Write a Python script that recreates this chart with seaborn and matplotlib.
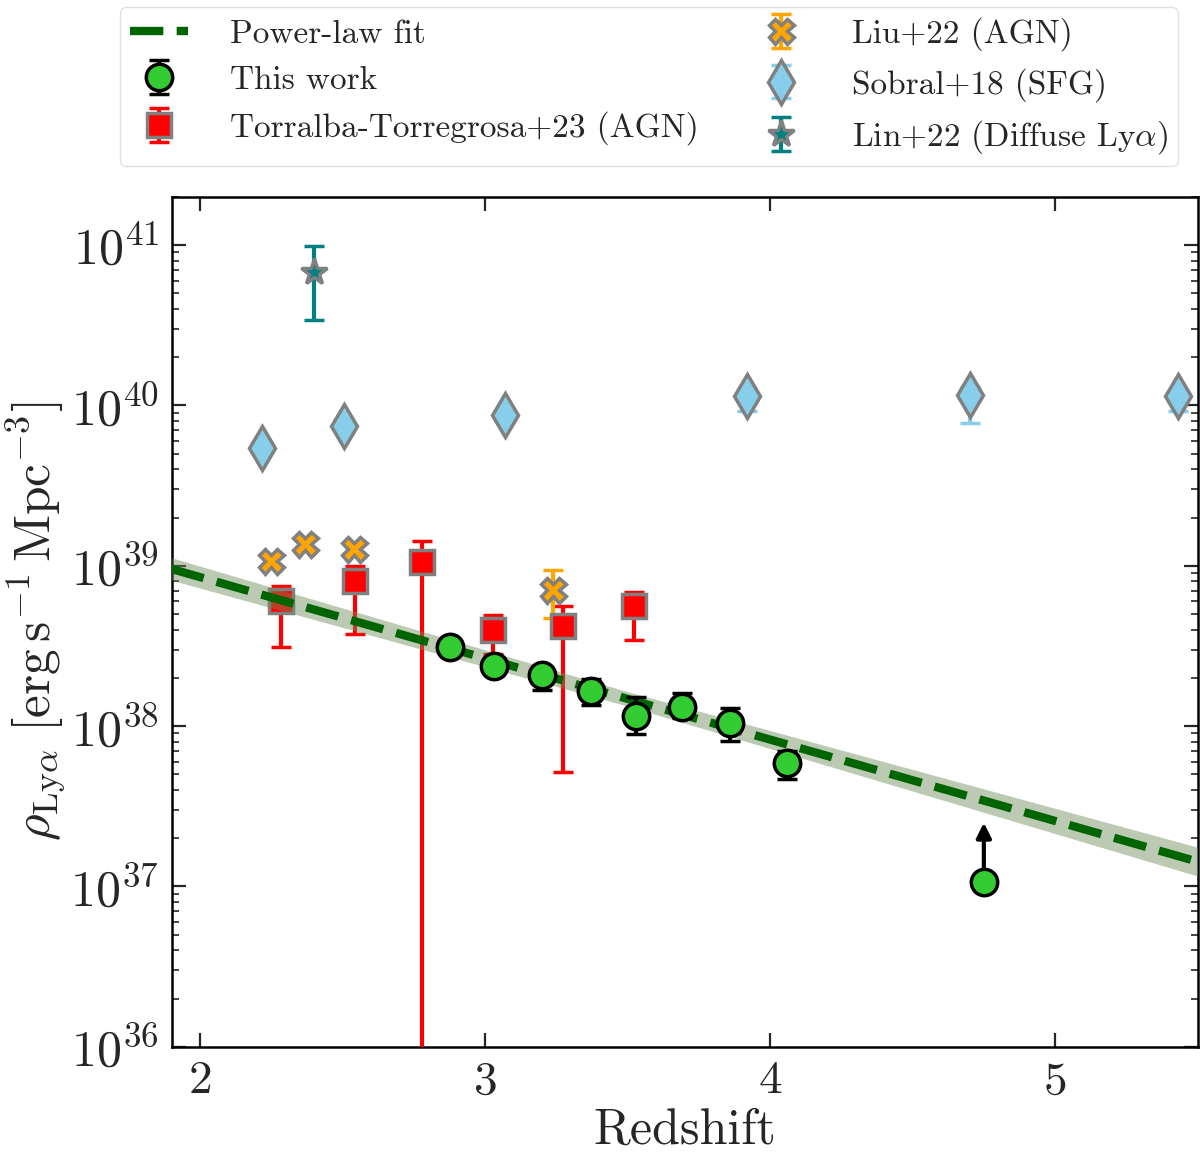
import numpy as np
import pandas as pd
import matplotlib
matplotlib.use("Agg")
import matplotlib.pyplot as plt
import seaborn as sns

# --- data ---
# This work
z_this = [2.876, 3.03, 3.20, 3.37, 3.53, 3.69, 3.86, 4.06]
rho_this = [3.1e38, 2.38e38, 2.09e38, 1.66e38, 1.16e38, 1.32e38, 1.05e38, 5.9e37]
err_lo_this = [0.35e38, 0.30e38, 0.40e38, 0.30e38, 0.27e38, 0.20e38, 0.24e38, 1.2e37]
err_hi_this = [0.35e38, 0.30e38, 0.25e38, 0.30e38, 0.35e38, 0.28e38, 0.25e38, 1.1e37]
# lower limit of this work
z_lim = [4.75]
rho_lim = [1.07e37]
rho_lim_tip = [2.5e37]

# Torralba-Torregrosa+23 (AGN)
z_tt = [2.284, 2.543, 2.78, 3.027, 3.272, 3.521]
rho_tt = [6.0e38, 8.06e38, 1.05e39, 4.0e38, 4.2e38, 5.6e38]
rho_tt_hi = [7.5e38, 1.0e39, 1.43e39, 4.95e38, 5.6e38, 6.9e38]
rho_tt_lo = [3.1e38, 3.77e38, 1e30, 2.8e38, 5.2e37, 3.45e38]

# Liu+22 (AGN)
z_liu = [2.249, 2.368, 2.54, 3.237]
rho_liu = [1.07e39, 1.37e39, 1.28e39, 7.1e38]
rho_liu_hi = [1.18e39, 1.45e39, 1.35e39, 9.45e38]
rho_liu_lo = [0.97e39, 1.29e39, 1.21e39, 4.75e38]

# Sobral+18 (SFG)
z_sob = [2.217, 2.505, 3.07, 3.92, 4.70, 5.43]
rho_sob = [5.4e39, 7.5e39, 8.7e39, 1.14e40, 1.17e40, 1.14e40]
rho_sob_hi = [5.6e39, 7.8e39, 9.0e39, 1.2e40, 1.3e40, 1.2e40]
rho_sob_lo = [5.2e39, 7.2e39, 8.4e39, 0.93e40, 0.78e40, 0.93e40]

# Lin+22 (Diffuse Lya)
z_lin = [2.40]
rho_lin = [6.8e40]
rho_lin_hi = [9.9e40]
rho_lin_lo = [3.4e40]

# power-law fit (log rho) and its band half-width
fit_z = [1.9, 3.5, 5.5]
fit_logrho = [38.98, 38.17, 37.155]
fit_band = [0.07, 0.045, 0.09]

sns.set_theme(style="ticks")
plt.rcParams["font.family"] = "serif"
plt.rcParams["font.serif"] = ["cmr10", "DejaVu Serif"]
plt.rcParams["mathtext.fontset"] = "cm"
plt.rcParams["axes.formatter.use_mathtext"] = True
plt.rcParams["axes.unicode_minus"] = False

fig, ax = plt.subplots(figsize=(12, 11.58), dpi=100)
fig.subplots_adjust(left=0.143, right=0.998, top=0.83, bottom=0.096)


def yerr(val, lo, hi):
    v = np.array(val)
    return [v - np.array(lo), np.array(hi) - v]


ax.errorbar(z_tt, rho_tt, yerr=yerr(rho_tt, rho_tt_lo, rho_tt_hi), fmt="s", color="red",
            mec="grey", mew=2.5, ms=17, elinewidth=3, capsize=7, capthick=3,
            label="Torralba-Torregrosa+23 (AGN)", zorder=3)
ax.errorbar(z_liu, rho_liu, yerr=yerr(rho_liu, rho_liu_lo, rho_liu_hi), fmt="X", color="orange",
            mec="grey", mew=2.5, ms=18, elinewidth=3, capsize=7, capthick=3,
            label="Liu+22 (AGN)", zorder=3)
ax.errorbar(z_sob, rho_sob, yerr=yerr(rho_sob, rho_sob_lo, rho_sob_hi), fmt="d", color="skyblue",
            mec="grey", mew=2.5, ms=22, elinewidth=3, capsize=7, capthick=3,
            label="Sobral+18 (SFG)", zorder=3)
ax.errorbar(z_lin, rho_lin, yerr=yerr(rho_lin, rho_lin_lo, rho_lin_hi), fmt="*", color="teal",
            mec="grey", mew=2.5, ms=20, elinewidth=3, capsize=7, capthick=3,
            label=r"Lin+22 (Diffuse Ly$\alpha$)", zorder=3)

# fit band and line
zz = np.array(fit_z)
lr = np.array(fit_logrho)
bb = np.array(fit_band)
ax.fill_between(zz, 10 ** (lr - bb), 10 ** (lr + bb), color="#6b8a5a", alpha=0.45,
                lw=0, zorder=4)
fit_df = pd.DataFrame({"z": zz, "rho": 10 ** lr})
sns.lineplot(data=fit_df, x="z", y="rho", ax=ax, color="darkgreen", lw=6,
             label="Power-law fit", zorder=5)
ax.lines[-1].set_linestyle((0, (4, 1.6)))

# this work
ax.annotate("", xy=(z_lim[0], rho_lim_tip[0]), xytext=(z_lim[0], rho_lim[0]),
            arrowprops=dict(arrowstyle="-|>", color="black", lw=3, mutation_scale=22,
                            shrinkA=0, shrinkB=0), zorder=6)
ax.errorbar(z_this, rho_this, yerr=[err_lo_this, err_hi_this], fmt="o", color="limegreen",
            mfc="#33cc33", mec="black", mew=2.5, ms=19, ecolor="black", elinewidth=3,
            capsize=7, capthick=3, label="This work", zorder=7)
ax.plot(z_lim, rho_lim, "o", mfc="#33cc33", mec="black", mew=2.5, ms=19, zorder=7)

ax.set_yscale("log")
ax.set_xlim(1.9, 5.5)
ax.set_ylim(1e36, 2e41)
ax.set_xticks([2, 3, 4, 5])
ax.set_xlabel("Redshift", fontsize=36)
ax.set_ylabel(r"$\rho_{\rm Ly\alpha}\ [\rm erg\,s^{-1}\,Mpc^{-3}]$", fontsize=37, labelpad=2)
ax.tick_params(axis="both", which="both", direction="in", top=True, right=True)
ax.tick_params(axis="x", labelsize=34, pad=10)
ax.tick_params(axis="y", labelsize=36, pad=9)
ax.tick_params(which="major", length=10, width=1.6)
ax.tick_params(which="minor", length=5, width=1.2)
ax.tick_params(axis="x", which="minor", bottom=False, top=False)
for sp in ax.spines.values():
    sp.set_linewidth(1.8)
    sp.set_color("black")

handles, labels = ax.get_legend_handles_labels()
order = ["Power-law fit", "This work", "Torralba-Torregrosa+23 (AGN)", "Liu+22 (AGN)",
         "Sobral+18 (SFG)", r"Lin+22 (Diffuse Ly$\alpha$)"]
hmap = dict(zip(labels, handles))
ax.legend([hmap[k] for k in order], order, loc="lower center", bbox_to_anchor=(0.465, 1.036),
          borderaxespad=0, ncol=2, fontsize=24, frameon=True, edgecolor="0.85", fancybox=True,
          handlelength=1.75, handletextpad=1.25, columnspacing=1.6, labelspacing=0.5,
          borderpad=0.3)

fig.savefig("out.png", dpi=100)
